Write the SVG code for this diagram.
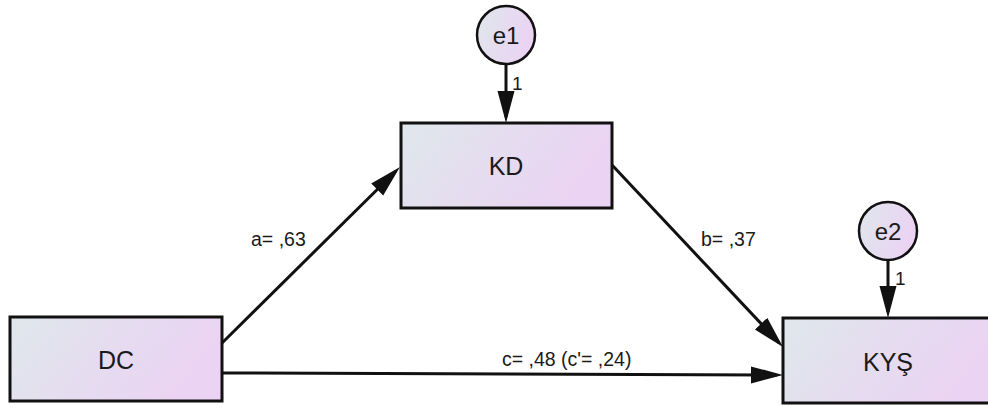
<svg xmlns="http://www.w3.org/2000/svg" width="988" height="406" viewBox="0 0 988 406">
<style>
.box{stroke:#111;stroke-width:3}
.circ{stroke:#111;stroke-width:2.5}
.lbl{font-family:"Liberation Sans",Arial,sans-serif;fill:#1a1a1a;text-anchor:middle}
.node{font-size:25px}
.evar{font-size:24px}
.path{font-size:19.5px;text-anchor:start}
.one{font-size:19px;text-anchor:start}
.con{stroke:#111;stroke-width:3;fill:none;marker-end:url(#ah)}
</style>
<defs>
<linearGradient id="g" x1="0" y1="0" x2="1" y2="0.3">
<stop offset="0" stop-color="#dfe7ec"/>
<stop offset="1" stop-color="#ebd3f3"/>
</linearGradient>
<marker id="ah" markerUnits="userSpaceOnUse" markerWidth="34" markerHeight="18" refX="26" refY="8.5" orient="auto" viewBox="0 0 34 18">
<path d="M0,0 L32,8.5 L0,17 z" fill="#111"/>
</marker>
</defs>
<rect width="988" height="406" fill="#fff"/>
<g id="connectors">
<line class="con" x1="222" y1="343" x2="395.7" y2="171.2"/>
<line class="con" x1="612" y1="165" x2="778.9" y2="342.6"/>
<line class="con" x1="222" y1="373" x2="777" y2="375"/>
<line class="con" x1="506" y1="64" x2="506" y2="117"/>
<line class="con" x1="888" y1="261" x2="888" y2="312"/>
<text class="lbl path" x="251" y="246">a= ,63</text>
<text class="lbl path" x="701" y="246">b= ,37</text>
<text class="lbl path" x="502" y="366">c= ,48 (c'= ,24)</text>
<text class="lbl one" x="512" y="90">1</text>
<text class="lbl one" x="895" y="285">1</text>
</g>
<g id="KD">
<rect class="box" x="401" y="123" width="211" height="85" fill="url(#g)"/>
<text class="lbl node" x="506" y="175">KD</text>
</g>
<g id="DC">
<rect class="box" x="10" y="317" width="212" height="84" fill="url(#g)"/>
<text class="lbl node" x="116" y="369">DC</text>
</g>
<g id="KYS">
<rect class="box" x="783" y="318" width="215" height="85" fill="url(#g)"/>
<text class="lbl node" x="888" y="371">KYŞ</text>
</g>
<g id="e1">
<circle class="circ" cx="506" cy="35" r="29" fill="url(#g)"/>
<text class="lbl evar" x="506" y="44">e1</text>
</g>
<g id="e2">
<circle class="circ" cx="888" cy="231" r="29" fill="url(#g)"/>
<text class="lbl evar" x="888" y="240">e2</text>
</g>
</svg>
